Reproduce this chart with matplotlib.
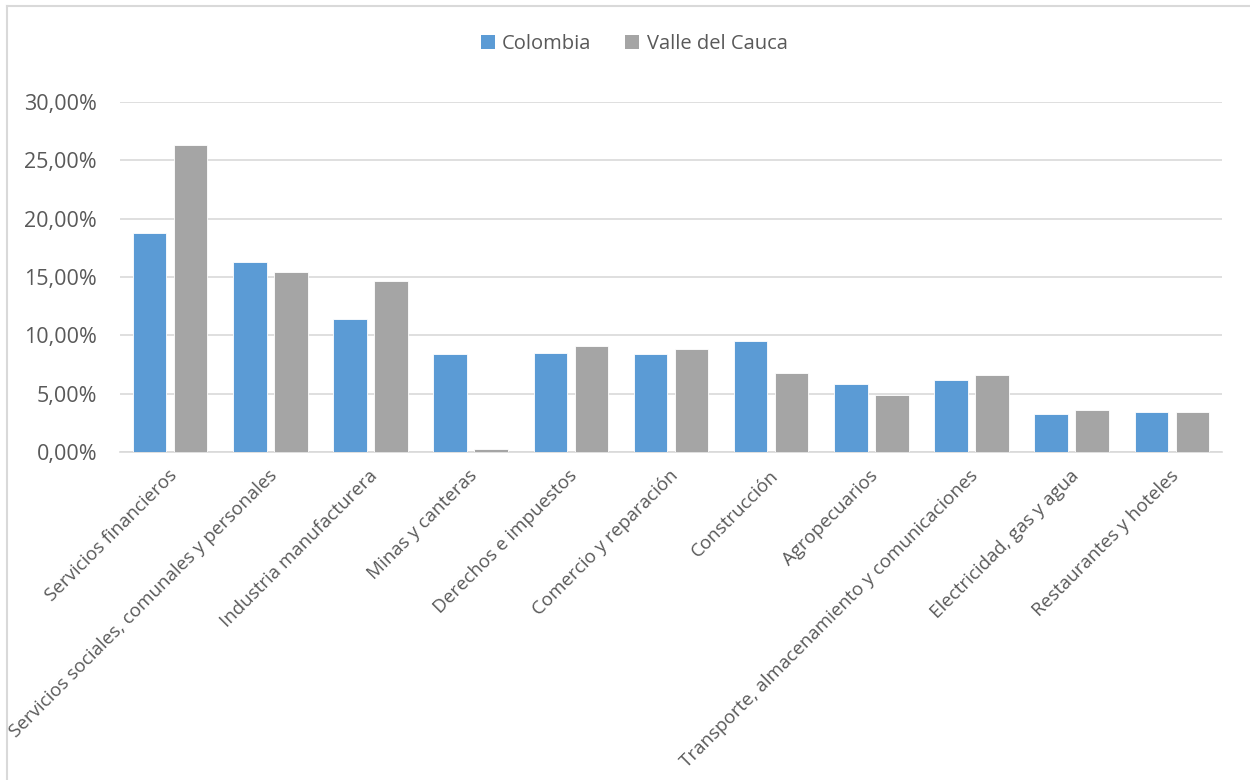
import matplotlib
matplotlib.use("Agg")
import matplotlib.pyplot as plt
import matplotlib.transforms as mtransforms
from matplotlib.patches import Patch
from matplotlib.lines import Line2D
import numpy as np

categories = [
    "Servicios financieros",
    "Servicios sociales, comunales y personales",
    "Industria manufacturera",
    "Minas y canteras",
    "Derechos e impuestos",
    "Comercio y reparación",
    "Construcción",
    "Agropecuarios",
    "Transporte, almacenamiento y comunicaciones",
    "Electricidad, gas y agua",
    "Restaurantes y hoteles",
]
colombia = [18.8, 16.3, 11.4, 8.4, 8.5, 8.4, 9.5, 5.8, 6.2, 3.3, 3.4]
valle = [26.3, 15.4, 14.7, 0.3, 9.1, 8.8, 6.8, 4.9, 6.6, 3.6, 3.4]
series_names = ["Colombia", "Valle del Cauca"]
yticks = [0, 5, 10, 15, 20, 25, 30]

BLUE = "#5B9BD5"
GRAY = "#A5A5A5"
TEXT = "#595959"
GRID = "#D9D9D9"

plt.rcParams["font.family"] = ["Open Sans", "DejaVu Sans"]

fig = plt.figure(figsize=(12.5, 7.8), dpi=100)
W, H = 1250, 780
ax = fig.add_axes([120 / W, 1 - 452 / H, (1222 - 120) / W, (452 - 102) / H])

x = np.arange(len(categories))
bw = 0.335
off = 0.205
ax.bar(x - off, colombia, bw, color=BLUE, edgecolor="white", linewidth=0.6, zorder=3)
ax.bar(x + off, valle, bw, color=GRAY, edgecolor="white", linewidth=0.6, zorder=3)

ax.set_xlim(-0.5, len(categories) - 0.5)
ax.set_ylim(0, 30)
ax.set_yticks(yticks)
ax.set_yticklabels([f"{v:.2f}".replace(".", ",") + "%" for v in yticks],
                   fontsize=15.5, color=TEXT)
ax.yaxis.grid(True, color=GRID, linewidth=1.2, zorder=0)
ax.set_axisbelow(True)
for s in ["top", "right", "left"]:
    ax.spines[s].set_visible(False)
ax.spines["bottom"].set_color(GRID)
ax.spines["bottom"].set_linewidth(1.2)
ax.tick_params(axis="both", length=0)
ax.tick_params(axis="y", pad=16.5)

ax.set_xticks(x)
ax.set_xticklabels(categories, rotation=45, ha="right", va="center",
                   rotation_mode="anchor", fontsize=13.5, color=TEXT)
ax.tick_params(axis="x", pad=15)
shift = mtransforms.ScaledTranslation(4 / 100, 0, fig.dpi_scale_trans)
for lbl in ax.get_xticklabels():
    lbl.set_transform(lbl.get_transform() + shift)

handles = [Patch(facecolor=BLUE, edgecolor="none"), Patch(facecolor=GRAY, edgecolor="none")]
fig.legend(handles, series_names, loc="center", bbox_to_anchor=(634 / W, 1 - 44 / H),
           ncol=2, frameon=False, fontsize=14.5, labelcolor=TEXT,
           handlelength=0.7, handleheight=0.7, handletextpad=0.35, columnspacing=1.7)

# chart border (top and left visible)
fig.add_artist(Line2D([7 / W, 7 / W], [0, 1 - 6 / H], transform=fig.transFigure,
                      color=GRID, linewidth=1.5))
fig.add_artist(Line2D([7 / W, 1], [1 - 6 / H, 1 - 6 / H], transform=fig.transFigure,
                      color=GRID, linewidth=1.5))

fig.savefig("out.png", dpi=100, facecolor="white")
